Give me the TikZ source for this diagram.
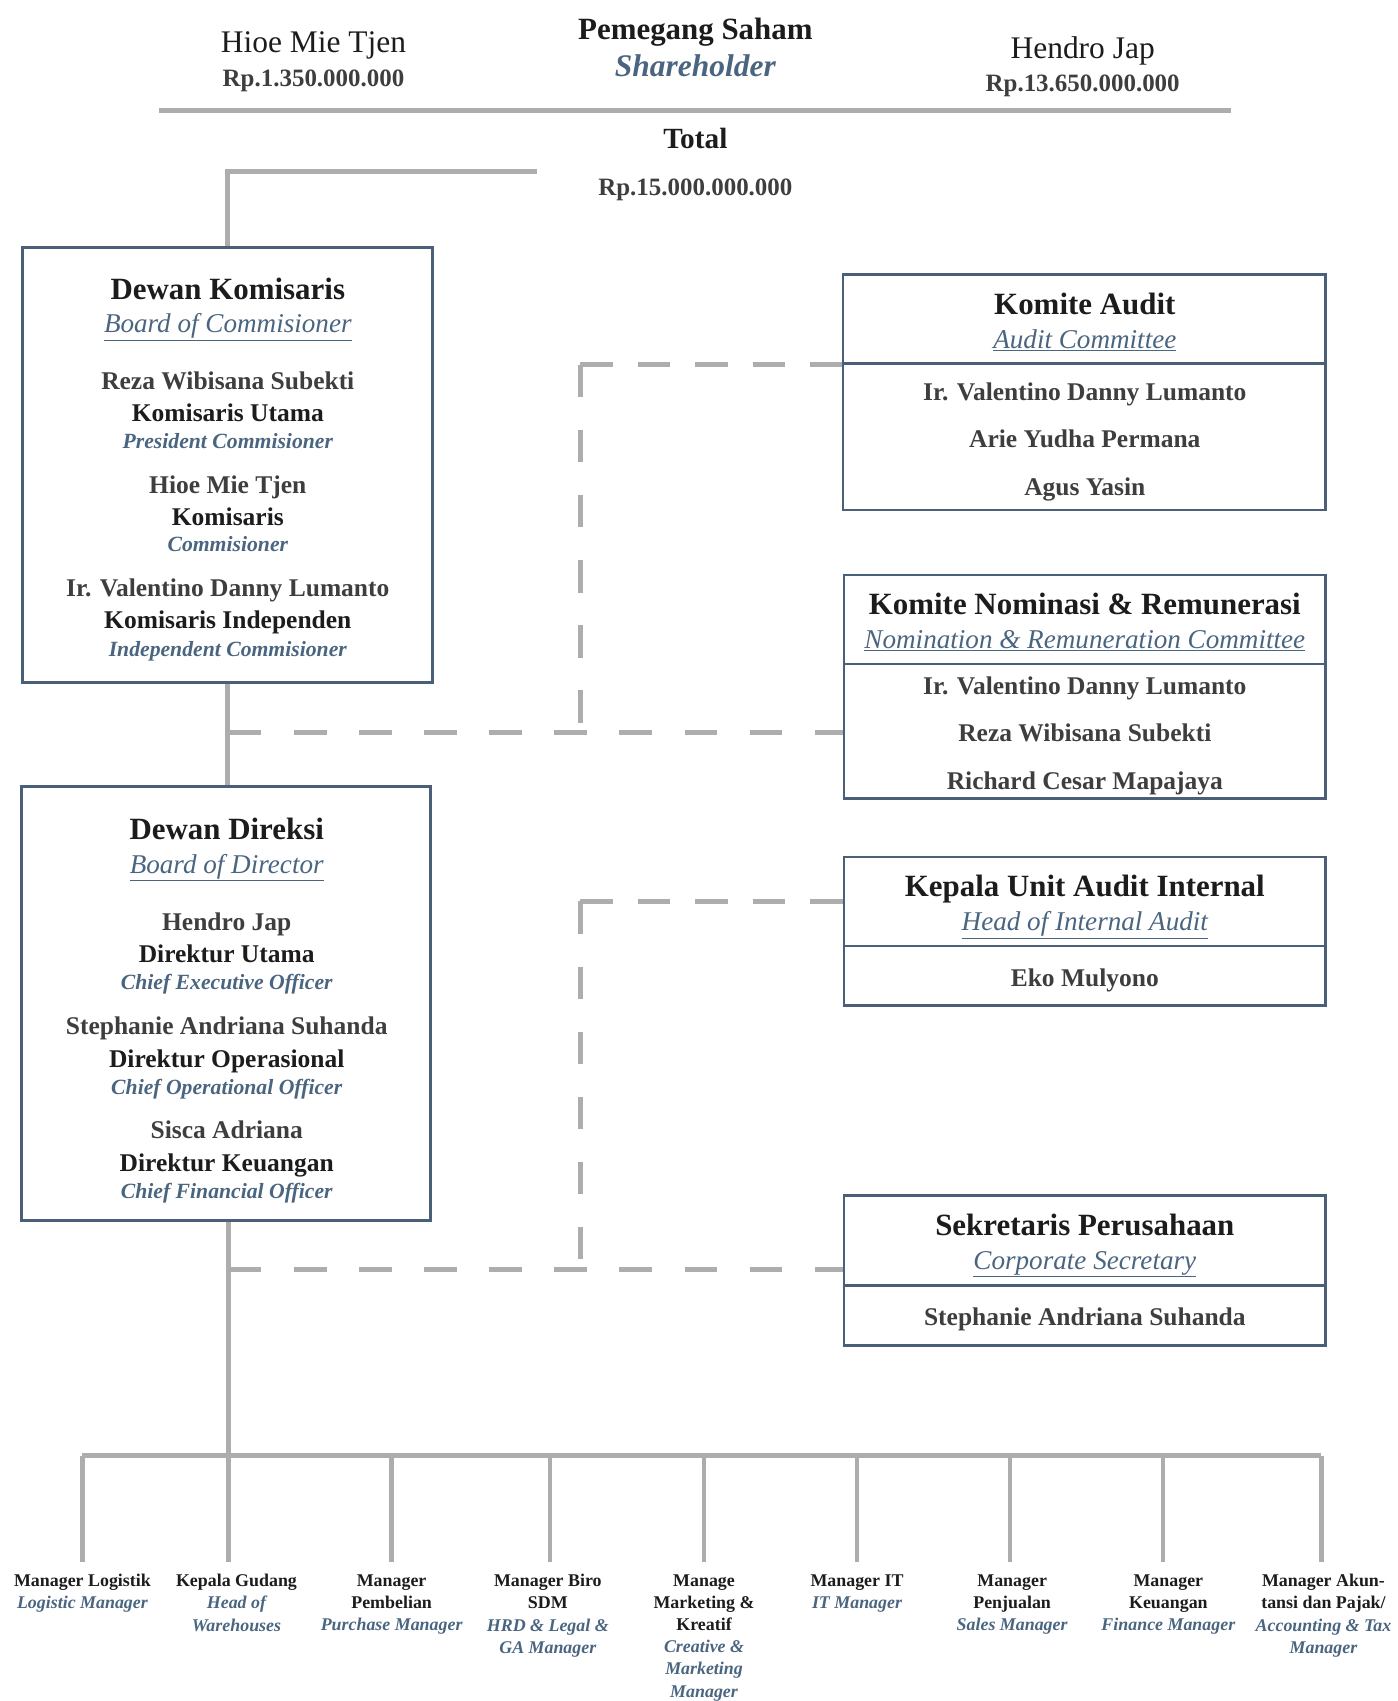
\documentclass[tikz,border=0pt]{standalone}
\usepackage{fontspec}
\setmainfont{Liberation Serif}
\usepackage{xcolor}
\definecolor{linegray}{HTML}{ADADAD}
\definecolor{boxblue}{HTML}{4A6079}
\definecolor{subblue}{HTML}{4A6580}
\definecolor{namegray}{HTML}{3E3E3E}
\definecolor{inkblack}{HTML}{1C1C1C}
\newcommand{\eng}[1]{{\itshape\color{subblue}#1}}
\tikzset{
  frame/.style={draw=boxblue, line width=2.5pt, inner sep=0pt},
  conn/.style={draw=linegray, line width=4.5pt},
  dashconn/.style={draw=linegray, line width=4.5pt, dash pattern=on 30pt off 30pt},
  shortdash/.style={draw=linegray, line width=4.5pt, dash pattern=on 30pt off 23pt},
  txt/.style={anchor=mid, inner sep=0pt, yshift=-6.5pt},
  ttl/.style={txt, text=inkblack, font=\bfseries\fontsize{28.5}{30}\selectfont},
  sub/.style={txt, text=subblue, font=\itshape\fontsize{25}{27}\selectfont},
  nm/.style={txt, text=namegray, font=\bfseries\fontsize{23.5}{25}\selectfont},
  role/.style={txt, text=inkblack, font=\bfseries\fontsize{23.5}{25}\selectfont},
  eng/.style={txt, text=subblue, font=\bfseries\itshape\fontsize{20}{22}\selectfont},
  amt/.style={txt, text=namegray, font=\bfseries\fontsize{23}{25}\selectfont},
  holder/.style={txt, text=inkblack, font=\fontsize{29}{31}\selectfont},
  lbl/.style={anchor=north, inner xsep=0pt, inner ysep=11pt, align=center, text=inkblack,
    font=\bfseries\fontsize{16.5}{20.5}\selectfont},
}
\begin{document}
\begin{tikzpicture}[x=1pt, y=-1pt]
  \useasboundingbox (0,0) rectangle (1288,1568);

  % Shareholders
  \node[holder] (hioe) at (289,40) {Hioe Mie Tjen};
  \node[amt] (hioeamt) at (289,71) {Rp.1.350.000.000};
  \node[ttl] (psaham) at (641,28) {Pemegang Saham};
  \node[txt, text=subblue, font=\bfseries\itshape\fontsize{29}{31}\selectfont] (shareholder) at (641,62) {Shareholder};
  \node[holder] (hendro) at (998,45) {Hendro Jap};
  \node[amt] (hendroamt) at (998,76) {Rp.13.650.000.000};
  \draw[conn] (147,102) -- (1135,102);
  \node[txt, text=inkblack, font=\bfseries\fontsize{27}{29}\selectfont] (total) at (641,128) {Total};
  \node[amt] (totalamt) at (641,171) {Rp.15.000.000.000};

  % Boards
  \node[frame, minimum width=378pt, minimum height=401pt] (komisaris) at (210,428.5) {};
  \node[frame, minimum width=377pt, minimum height=400pt] (direksi) at (208.5,925) {};

  \node[ttl] (komttl) at (210,267) {Dewan Komisaris};
  \node[sub] (komsub) at (210,298) {\underline{Board of Commisioner}};
  \node[nm] (kom1) at (210,350) {Reza Wibisana Subekti};
  \node[role] (kom1r) at (210,380) {Komisaris Utama};
  \node[eng] (kom1e) at (210,405) {President Commisioner};
  \node[nm] (kom2) at (210,446) {Hioe Mie Tjen};
  \node[role] (kom2r) at (210,476) {Komisaris};
  \node[eng] (kom2e) at (210,500) {Commisioner};
  \node[nm] (kom3) at (210,541) {Ir. Valentino Danny Lumanto};
  \node[role] (kom3r) at (210,571) {Komisaris Independen};
  \node[eng] (kom3e) at (210,596) {Independent Commisioner};

  \node[ttl] (dirttl) at (209,765) {Dewan Direksi};
  \node[sub] (dirsub) at (209,796) {\underline{Board of Director}};
  \node[nm] (dir1) at (209,849) {Hendro Jap};
  \node[role] (dir1r) at (209,878) {Direktur Utama};
  \node[eng] (dir1e) at (209,903) {Chief Executive Officer};
  \node[nm] (dir2) at (209,945) {Stephanie Andriana Suhanda};
  \node[role] (dir2r) at (209,975) {Direktur Operasional};
  \node[eng] (dir2e) at (209,1000) {Chief Operational Officer};
  \node[nm] (dir3) at (209,1041) {Sisca Adriana};
  \node[role] (dir3r) at (209,1071) {Direktur Keuangan};
  \node[eng] (dir3e) at (209,1096) {Chief Financial Officer};

  % Committees
  \node[frame, minimum width=445pt, minimum height=82pt] (audithead) at (999.5,294) {};
  \node[frame, minimum width=445pt, minimum height=135pt] (auditbody) at (999.5,402.5) {};
  \node[ttl] (auditttl) at (1000,281) {Komite Audit};
  \node[sub] (auditsub) at (1000,312) {\underline{Audit Committee}};
  \node[nm] (audit1) at (1000,360) {Ir. Valentino Danny Lumanto};
  \node[nm] (audit2) at (1000,404) {Arie Yudha Permana};
  \node[nm] (audit3) at (1000,448) {Agus Yasin};

  \node[frame, minimum width=444pt, minimum height=82pt] (nomremhead) at (1000,571) {};
  \node[frame, minimum width=444pt, minimum height=124pt] (nomrembody) at (1000,674) {};
  \node[ttl] (nomremttl) at (1000,558) {Komite Nominasi \& Remunerasi};
  \node[sub] (nomremsub) at (1000,589) {\underline{Nomination \& Remuneration Committee}};
  \node[nm] (nomrem1) at (1000,631) {Ir. Valentino Danny Lumanto};
  \node[nm] (nomrem2) at (1000,675) {Reza Wibisana Subekti};
  \node[nm] (nomrem3) at (1000,719) {Richard Cesar Mapajaya};

  \node[frame, minimum width=444pt, minimum height=82pt] (audinthead) at (1000,831) {};
  \node[frame, minimum width=444pt, minimum height=55pt] (audintbody) at (1000,899.5) {};
  \node[ttl] (audintttl) at (1000,818) {Kepala Unit Audit Internal};
  \node[sub] (audintsub) at (1000,849) {\underline{Head of Internal Audit}};
  \node[nm] (audint1) at (1000,901) {Eko Mulyono};

  \node[frame, minimum width=444pt, minimum height=83pt] (sekperhead) at (1000,1143.5) {};
  \node[frame, minimum width=444pt, minimum height=55pt] (sekperbody) at (1000,1212.5) {};
  \node[ttl] (sekperttl) at (1000,1130) {Sekretaris Perusahaan};
  \node[sub] (sekpersub) at (1000,1161) {\underline{Corporate Secretary}};
  \node[nm] (sekper1) at (1000,1213) {Stephanie Andriana Suhanda};

  % Connectors
  \coordinate (totalend) at (495,158);
  \draw[conn] (totalend) -| (komisaris.north);
  \draw[conn] (komisaris.south) -- (komisaris.south |- direksi.north);

  \coordinate (komtap) at (211,675);
  \coordinate (komcorner) at (535,675);
  \draw[dashconn] (komtap) -- (nomrembody.west |- komtap);
  \draw[shortdash] (komcorner |- audithead.south west) -- (audithead.south west);
  \draw[dashconn] (komcorner |- audithead.south west) -- (komcorner);

  \coordinate (dirtap) at (211,1170);
  \coordinate (dircorner) at (535,1170);
  \draw[dashconn] (dirtap) -- (sekperhead.west |- dirtap);
  \draw[shortdash] (dircorner |- audinthead.west) -- (audinthead.west);
  \draw[dashconn] (dircorner |- audinthead.west) -- (dircorner);

  % Managers
  \coordinate (busleft) at (76,1342);
  \coordinate (busright) at (1218,1342);
  \draw[conn] (direksi.south -| dirtap) -- (dirtap |- busleft);
  \draw[conn] (busleft) -- (busright);
  \foreach \bx/\lx/\name/\txt in {
      76/76/logistik/{Manager Logistik\\ \eng{Logistic Manager}},
      211/218/gudang/{Kepala Gudang\\ \eng{Head of}\\ \eng{Warehouses}},
      361/361/pembelian/{Manager\\ Pembelian\\ \eng{Purchase Manager}},
      507/505/sdm/{Manager Biro\\ SDM\\ \eng{HRD \& Legal \&}\\ \eng{GA Manager}},
      649/649/marketing/{Manage\\ Marketing \&\\ Kreatif\\ \eng{Creative \&}\\ \eng{Marketing}\\ \eng{Manager}},
      790/790/it/{Manager IT\\ \eng{IT Manager}},
      931/933/penjualan/{Manager\\ Penjualan\\ \eng{Sales Manager}},
      1072/1077/keuangan/{Manager\\ Keuangan\\ \eng{Finance Manager}},
      1218/1220/akuntansi/{Manager Akun-\\ tansi dan Pajak/\\ \eng{Accounting \& Tax}\\ \eng{Manager}}} {
    \node[lbl] (\name) at (\lx,1440) {\txt};
    \coordinate (tap\name) at (\bx,1342);
    \draw[conn] (tap\name) -- (tap\name |- \name.north);
  }
\end{tikzpicture}
\end{document}
